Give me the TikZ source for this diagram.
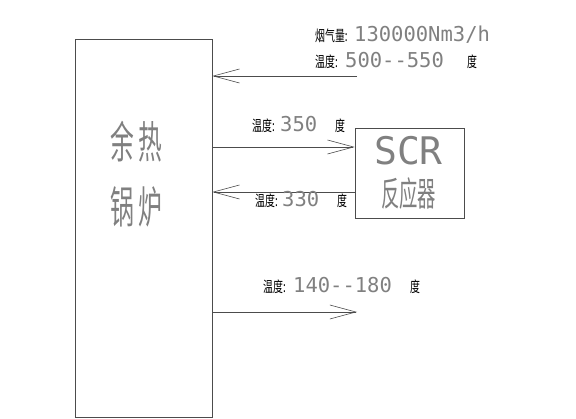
\documentclass[tikz,border=0pt]{standalone}
\usepackage{fontspec}
\usetikzlibrary{arrows.meta}
\newfontfamily\cjk{Noto Sans CJK SC}
\newfontfamily\numf{DejaVu Sans Mono}
\newcommand{\smlbl}[1]{\scalebox{0.66}[1]{\cjk\fontsize{15}{15}\selectfont #1}}
\newcommand{\bignum}[1]{{\numf\fontsize{20.5}{20.5}\selectfont #1}}
\definecolor{linec}{gray}{0.3}
\definecolor{txtc}{gray}{0.5}
\tikzset{
  box/.style={draw=linec, line width=0.6pt, rectangle, inner sep=0pt},
  flow/.style={draw=linec, line width=0.6pt, -{Straight Barb[length=26pt,width=14pt,line width=0.6pt]}},
  lab/.style={inner sep=0pt, anchor=base west, text=black},
  num/.style={inner sep=0pt, anchor=base west, text=txtc},
  title/.style={inner sep=0pt, anchor=base west, text=txtc}
}
\begin{document}
\begin{tikzpicture}[x=1pt,y=-1pt]
\useasboundingbox (0,0) rectangle (576,419);
% boxes
\node[box, minimum width=137pt, minimum height=378pt] (boiler) at (143.5,228) {};
\node[box, minimum width=109pt, minimum height=90pt] (scr) at (409.5,173) {};
% box texts
\node[title] (t1) at (110,159) {\scalebox{0.54}[1]{\cjk\fontsize{44}{44}\selectfont 余\hspace{8pt}热}};
\node[title] (t2) at (110,224) {\scalebox{0.54}[1]{\cjk\fontsize{44}{44}\selectfont 锅\hspace{8pt}炉}};
\node[title] (t3) at (374,165) {{\numf\fontsize{38}{38}\selectfont SCR}};
\node[title] (t4) at (381,207) {\scalebox{0.54}[1]{\cjk\fontsize{34}{34}\selectfont 反应器}};
% coordinates
\coordinate (in1) at (357,76);
\coordinate (a2) at (0,147);
\coordinate (a3) at (0,192);
\coordinate (out1) at (357,312);
% connectors
\draw[flow] (in1) -- (in1 -| boiler.east);
\draw[flow] (boiler.east |- a2) -- (scr.west |- a2);
\draw[flow] (scr.west |- a3) -- (boiler.east |- a3);
\draw[flow] (out1 -| boiler.east) -- (out1);
% labels
\node[lab] (l1a) at (315,42) {\smlbl{烟气量:}};
\node[num] (l1b) at (354,42) {\bignum{130000Nm3/h}};
\node[lab] (l2a) at (315,68) {\smlbl{温度:}};
\node[num] (l2b) at (345,68) {\bignum{500-{}-550}};
\node[lab] (l2c) at (467,68) {\smlbl{度}};
\node[lab] (l3a) at (252,132) {\smlbl{温度:}};
\node[num] (l3b) at (280,132) {\bignum{350}};
\node[lab] (l3c) at (335,132) {\smlbl{度}};
\node[lab] (l4a) at (255,207) {\smlbl{温度:}};
\node[num] (l4b) at (282,207) {\bignum{330}};
\node[lab] (l4c) at (337,207) {\smlbl{度}};
\node[lab] (l5a) at (263,293) {\smlbl{温度:}};
\node[num] (l5b) at (293,293) {\bignum{140-{}-180}};
\node[lab] (l5c) at (410,293) {\smlbl{度}};
\end{tikzpicture}
\end{document}
